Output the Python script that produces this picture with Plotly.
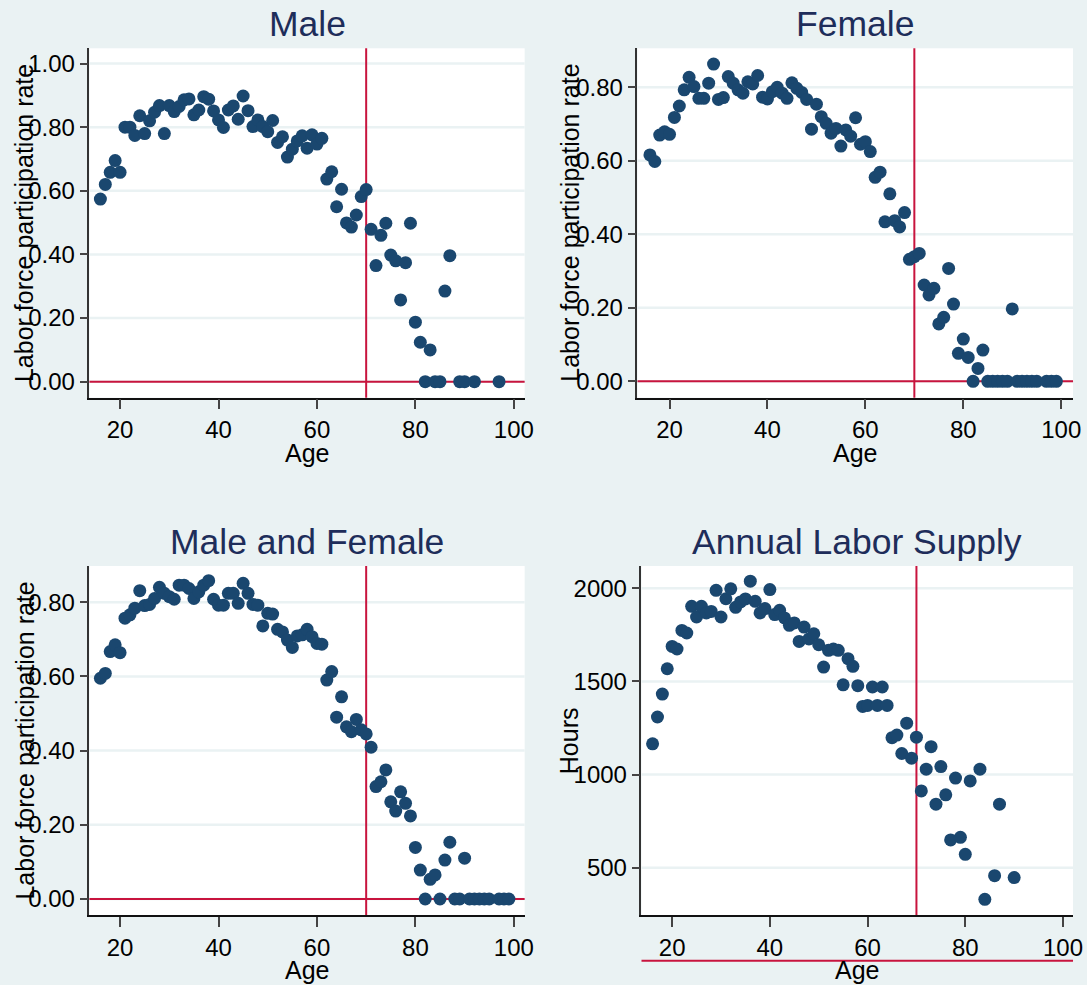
import plotly.graph_objects as go

# ---------------- data ----------------
male_age = list(range(16, 88)) + [89, 90, 92, 97]
male_lfp = [0.574, 0.620, 0.658, 0.695, 0.658, 0.800, 0.800, 0.774, 0.836, 0.780,
            0.820, 0.847, 0.868, 0.780, 0.868, 0.849, 0.865, 0.886, 0.889, 0.839,
            0.854, 0.896, 0.888, 0.851, 0.823, 0.799, 0.854, 0.867, 0.825, 0.898,
            0.852, 0.802, 0.823, 0.802, 0.786, 0.821, 0.752, 0.770, 0.706, 0.731,
            0.757, 0.773, 0.734, 0.776, 0.747, 0.765, 0.637, 0.660, 0.550, 0.605,
            0.499, 0.486, 0.524, 0.582, 0.604, 0.479, 0.365, 0.460, 0.498, 0.398,
            0.380, 0.257, 0.374, 0.498, 0.187, 0.124, 0.000, 0.100, 0.000, 0.000,
            0.285, 0.396,
            0.0, 0.0, 0.0, 0.0]

female_age = list(range(16, 96)) + [97, 98, 99]
female_lfp = [0.616, 0.598, 0.670, 0.679, 0.672, 0.718, 0.749, 0.793, 0.827, 0.802,
              0.770, 0.770, 0.811, 0.863, 0.767, 0.772, 0.829, 0.811, 0.793, 0.784,
              0.815, 0.809, 0.832, 0.773, 0.768, 0.788, 0.800, 0.784, 0.770, 0.812,
              0.797, 0.786, 0.767, 0.686, 0.754, 0.720, 0.702, 0.675, 0.688, 0.640,
              0.684, 0.667, 0.717, 0.645, 0.652, 0.625, 0.555, 0.569, 0.434, 0.510,
              0.437, 0.420, 0.459, 0.332, 0.339, 0.348, 0.262, 0.235, 0.253, 0.156,
              0.174, 0.307, 0.210, 0.076, 0.115, 0.065, 0.000, 0.035, 0.085, 0.000,
              0.000, 0.000, 0.000, 0.000, 0.197, 0.000, 0.000, 0.000, 0.000, 0.000,
              0.0, 0.0, 0.0]

both_age = list(range(16, 96)) + [97, 98, 99]
both_lfp = [0.595, 0.608, 0.667, 0.685, 0.664, 0.757, 0.766, 0.784, 0.831, 0.791,
            0.794, 0.810, 0.840, 0.824, 0.815, 0.808, 0.846, 0.846, 0.837, 0.810,
            0.828, 0.846, 0.858, 0.808, 0.792, 0.792, 0.824, 0.824, 0.797, 0.851,
            0.824, 0.794, 0.792, 0.736, 0.770, 0.768, 0.727, 0.720, 0.698, 0.678,
            0.709, 0.712, 0.727, 0.707, 0.689, 0.687, 0.590, 0.613, 0.490, 0.545,
            0.464, 0.451, 0.484, 0.456, 0.445, 0.409, 0.303, 0.316, 0.348, 0.262,
            0.237, 0.289, 0.258, 0.224, 0.139, 0.078, 0.000, 0.053, 0.065, 0.000,
            0.105, 0.153, 0.000, 0.000, 0.110, 0.000, 0.000, 0.000, 0.000, 0.000,
            0.0, 0.0, 0.0]

hours_age = list(range(16, 82)) + [83, 84, 86, 87, 90]
hours = [1165, 1309, 1432, 1568, 1688, 1674, 1774, 1760, 1903, 1846,
         1903, 1868, 1876, 1989, 1846, 1944, 1997, 1898, 1927, 1943,
         2038, 1930, 1868, 1891, 1993, 1859, 1882, 1841, 1801, 1814,
         1715, 1792, 1728, 1756, 1697, 1577, 1667, 1674, 1667, 1482,
         1622, 1581, 1477, 1366, 1371, 1470, 1371, 1470, 1371, 1198,
         1212, 1113, 1276, 1088, 1201, 912, 1029, 1150, 841, 1043,
         891, 649, 981, 663, 572, 966,
         1029, 330, 457, 841, 447]

titles = ["Male", "Female", "Male and Female", "Annual Labor Supply"]
x_title = "Age"
y_titles = ["Labor force participation rate", "Labor force participation rate",
            "Labor force participation rate", "Hours"]
x_ticks = [20, 40, 60, 80, 100]
lfp_ticks = [0.0, 0.2, 0.4, 0.6, 0.8, 1.0]
hours_ticks = [500, 1000, 1500, 2000]
cutoff_age = 70

# ---------------- layout geometry (pixels) ----------------
W, H = 1087, 985
KX = 1.0096          # horizontal correction observed in the rendered page
BG = "#EAF2F3"
NAVY = "#1A476F"
RED = "#C8143E"
TITLE_C = "#1E2D5A"
FONT = "Liberation Sans, Arial, sans-serif"

def px_x(p):
    return min(1.0, p * KX / W)

def px_y(p):
    return 1 - p / H

panels = [
    dict(x=male_age, y=male_lfp, xd=(89.3, 524.0), yd=(48.3, 397.7),
         xr=(13.77, 102.2), yr=(-0.0503, 1.048), yt=lfp_ticks, fmt=".2f",
         ytx=24, zero=True),
    dict(x=female_age, y=female_lfp, xd=(636.7, 1071.7), yd=(48.3, 397.7),
         xr=(13.46, 102.41), yr=(-0.0446, 0.906), yt=lfp_ticks, fmt=".2f",
         ytx=569, zero=True),
    dict(x=both_age, y=both_lfp, xd=(89.3, 524.0), yd=(566.0, 915.0),
         xr=(13.77, 102.2), yr=(-0.0431, 0.8976), yt=lfp_ticks, fmt=".2f",
         ytx=24, zero=True),
    dict(x=hours_age, y=hours, xd=(640.7, 1071.7), yd=(566.0, 915.0),
         xr=(13.73, 102.05), yr=(246.1, 2119.7), yt=hours_ticks, fmt="d",
         ytx=568, zero=False),
]

fig = go.Figure()
shapes = []
annotations = []
layout_axes = {}

for i, p in enumerate(panels, start=1):
    sfx = "" if i == 1 else str(i)
    fig.add_trace(go.Scatter(
        x=p["x"], y=p["y"], mode="markers",
        marker=dict(color=NAVY, size=13, line=dict(width=0)),
        xaxis="x" + sfx, yaxis="y" + sfx, showlegend=False, cliponaxis=False,
    ))
    xdom = [px_x(p["xd"][0]), px_x(p["xd"][1])]
    ydom = [px_y(p["yd"][1]), px_y(p["yd"][0])]
    layout_axes["xaxis" + sfx] = dict(
        domain=xdom, range=list(p["xr"]), anchor="y" + sfx,
        tickvals=x_ticks, ticks="outside", ticklen=10, tickwidth=1.5,
        tickcolor="#444", showline=True, linecolor="#111", linewidth=1.5,
        showgrid=False, zeroline=False,
        tickfont=dict(size=24, color="black", family=FONT),
    )
    yt = p["yt"]
    layout_axes["yaxis" + sfx] = dict(
        domain=ydom, range=list(p["yr"]), anchor="x" + sfx,
        tickvals=yt, ticktext=[format(v, p["fmt"]) if p["fmt"] != "d" else str(int(v)) for v in yt],
        ticks="outside", ticklen=8, tickwidth=1.5, tickcolor="#444",
        showline=True, linecolor="#333", linewidth=1.5,
        showgrid=False, zeroline=False,
        tickfont=dict(size=24, color="black", family=FONT),
    )
    # horizontal gridlines at the y ticks (drawn first, below everything)
    for v in yt:
        if p["yr"][0] <= v <= p["yr"][1]:
            shapes.append(dict(type="line", xref="x" + sfx + " domain", yref="y" + sfx,
                               x0=0, x1=1, y0=v, y1=v,
                               line=dict(color=BG, width=2.5), layer="below"))
    # vertical cutoff line at age 70
    shapes.append(dict(type="line", xref="x" + sfx, yref="y" + sfx + " domain",
                       x0=cutoff_age, x1=cutoff_age, y0=0, y1=1,
                       line=dict(color=RED, width=2), layer="below"))
    # horizontal line at y = 0
    if p["zero"]:
        shapes.append(dict(type="line", xref="x" + sfx + " domain", yref="y" + sfx,
                           x0=0, x1=1, y0=0, y1=0,
                           line=dict(color=RED, width=2), layer="below"))
    else:
        r0, r1 = p["yr"]
        yp = ydom[0] + (0 - r0) / (r1 - r0) * (ydom[1] - ydom[0])
        shapes.append(dict(type="line", xref="x" + sfx + " domain", yref="paper",
                           x0=0, x1=1, y0=yp, y1=yp,
                           line=dict(color=RED, width=2), layer="above"))
    xc = (p["xd"][0] + p["xd"][1]) / 2
    yc = (p["yd"][0] + p["yd"][1]) / 2
    # panel title
    annotations.append(dict(text=titles[i - 1], xref="paper", yref="paper",
                            x=px_x(xc), y=px_y(p["yd"][0] - 24), xanchor="center",
                            yanchor="middle", showarrow=False,
                            font=dict(size=35.5, color=TITLE_C, family=FONT)))
    # x axis title
    annotations.append(dict(text=x_title, xref="paper", yref="paper",
                            x=px_x(xc), y=px_y(p["yd"][1] + 55), xanchor="center",
                            yanchor="middle", showarrow=False,
                            font=dict(size=25, color="black", family=FONT)))
    # y axis title
    annotations.append(dict(text=y_titles[i - 1], xref="paper", yref="paper",
                            x=px_x(p["ytx"]), y=px_y(yc), xanchor="center",
                            yanchor="middle", showarrow=False, textangle=-90,
                            font=dict(size=25, color="black", family=FONT)))

fig.update_layout(
    width=W, height=H, margin=dict(l=0, r=0, t=0, b=0),
    paper_bgcolor=BG, plot_bgcolor="white",
    shapes=shapes, annotations=annotations, showlegend=False,
    font=dict(family=FONT, color="black"),
    **layout_axes,
)

fig.write_html(
    "out.html",
    config={"displayModeBar": False, "responsive": False},
    post_script=("document.body.style.margin='0';document.body.style.padding='0';"
                 "document.body.style.overflow='hidden';"
                 "document.documentElement.style.overflow='hidden';"),
)
